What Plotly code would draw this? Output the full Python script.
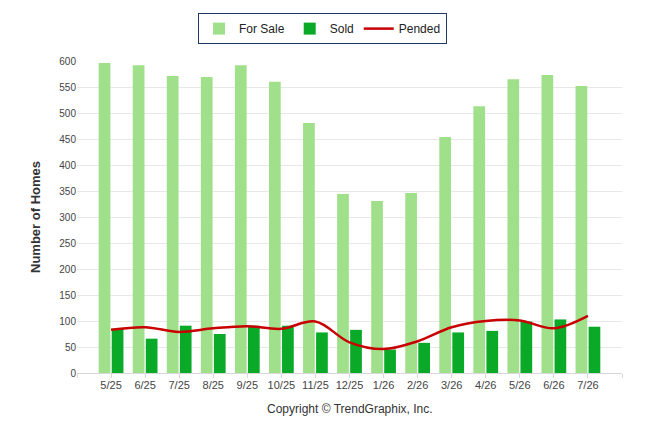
import plotly.graph_objects as go

# ---------- data ----------
months = ["5/25", "6/25", "7/25", "8/25", "9/25", "10/25", "11/25", "12/25",
          "1/26", "2/26", "3/26", "4/26", "5/26", "6/26", "7/26"]
for_sale = [596, 592, 571, 569, 592, 560, 481, 344, 331, 346, 454, 513, 565, 573, 552]
sold = [85, 66, 91, 75, 91, 91, 78, 83, 45, 58, 78, 81, 99, 103, 89]
pended = [83, 88, 79, 86, 90, 85, 99, 59, 46, 61, 88, 100, 101, 86, 110]

xpos = list(range(len(months)))
# empty slots at both ends of the axis, like the original
tickvals = [-1] + xpos + [len(months)]
ticktext = [""] + months + [""]

fig = go.Figure()
fig.add_trace(go.Bar(x=xpos, y=for_sale, name="For Sale",
                     marker=dict(color="#a0e08a", line_width=0)))
fig.add_trace(go.Bar(x=xpos, y=sold, name="Sold",
                     marker=dict(color="#0aaa28", line_width=0)))
fig.add_trace(go.Scatter(x=xpos, y=pended, name="Pended", mode="lines",
                         line=dict(color="#c80000", width=2.5, shape="spline", smoothing=1.0)))

# the page has an 8px body margin, so the figure is a bit smaller
fig.update_layout(
    width=638, height=426,
    paper_bgcolor="white", plot_bgcolor="white",
    margin=dict(l=69, r=24, t=53, b=61, autoexpand=False),
    barmode="group", bargap=0.235, bargroupgap=0.1,
    font=dict(family="Liberation Sans, Arial, sans-serif", size=11, color="#444"),
    legend=dict(orientation="h", x=0.493, xanchor="center", xref="container",
                y=0.988, yanchor="top", yref="container",
                bordercolor="#1f3864", borderwidth=1, bgcolor="white",
                font=dict(size=12, color="#222"), traceorder="normal",
                itemwidth=30),
    showlegend=True,
)
fig.update_xaxes(range=[-1, len(months)], tickmode="array",
                 tickvals=tickvals, ticktext=ticktext,
                 ticks="outside", ticklen=4, tickcolor="#d8d8d8",
                 ticklabelstandoff=-2,
                 showline=True, linecolor="#d8d8d8", linewidth=1,
                 showgrid=False, zeroline=False, automargin=False,
                 tickfont=dict(size=11, color="#444"))
fig.update_yaxes(range=[0, 600], dtick=50, showgrid=True, gridcolor="#e8e8e8",
                 zeroline=False, showline=False, ticks="", automargin=False,
                 tickfont=dict(size=10, color="#444"),
                 title=dict(text="<b>Number of Homes</b>",
                            font=dict(size=13, color="#333")))
fig.add_annotation(text="Copyright \u00a9 TrendGraphix, Inc.", xref="paper", yref="paper",
                   x=0.5, y=-0.085, yanchor="top", showarrow=False,
                   font=dict(size=12, color="#333"))

fig.write_html("out.html")
